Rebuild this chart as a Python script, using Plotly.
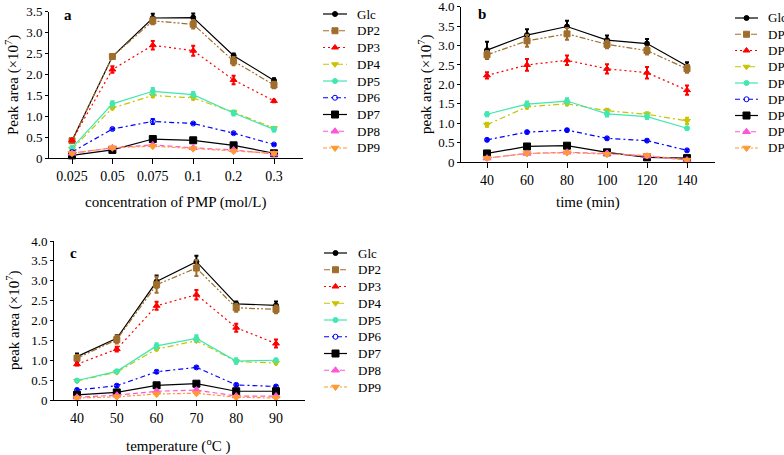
import plotly.graph_objects as go

W, H = 784, 455
SERIES = ["Glc", "DP2", "DP3", "DP4", "DP5", "DP6", "DP7", "DP8", "DP9"]

# Panel a: concentration of PMP
A_CATS = ["0.025", "0.05", "0.075", "0.1", "0.2", "0.3"]
A_GLC = [0.42, 2.43, 3.35, 3.36, 2.45, 1.86]
A_DP2 = [0.42, 2.43, 3.28, 3.20, 2.32, 1.75]
A_DP3 = [0.43, 2.12, 2.70, 2.57, 1.87, 1.37]
A_DP4 = [0.22, 1.20, 1.50, 1.44, 1.10, 0.72]
A_DP5 = [0.25, 1.30, 1.60, 1.52, 1.08, 0.69]
A_DP6 = [0.15, 0.70, 0.88, 0.83, 0.60, 0.33]
A_DP7 = [0.07, 0.20, 0.46, 0.43, 0.31, 0.12]
A_DP8 = [0.12, 0.25, 0.32, 0.25, 0.20, 0.10]
A_DP9 = [0.12, 0.25, 0.29, 0.23, 0.17, 0.12]
A_ERR = [
    [0.03, 0.05, 0.10, 0.10, 0.05, 0.05],
    [0.03, 0.05, 0.08, 0.10, 0.10, 0.08],
    [0.03, 0.08, 0.10, 0.12, 0.10, 0.03],
    [0.03, 0.03, 0.04, 0.04, 0.03, 0.03],
    [0.03, 0.06, 0.08, 0.06, 0.06, 0.05],
    [0.02, 0.02, 0.06, 0.02, 0.02, 0.02],
    [0.02, 0.02, 0.02, 0.02, 0.02, 0.02],
    [0.02, 0.02, 0.02, 0.02, 0.02, 0.02],
    [0.03, 0.03, 0.03, 0.03, 0.03, 0.03],
]

# Panel b: time
B_CATS = ["40", "60", "80", "100", "120", "140"]
B_GLC = [2.88, 3.27, 3.49, 3.14, 3.05, 2.47]
B_DP2 = [2.76, 3.12, 3.30, 3.03, 2.87, 2.40]
B_DP3 = [2.23, 2.50, 2.62, 2.40, 2.30, 1.85]
B_DP4 = [0.96, 1.42, 1.50, 1.32, 1.23, 1.06]
B_DP5 = [1.23, 1.49, 1.57, 1.24, 1.17, 0.87]
B_DP6 = [0.57, 0.77, 0.82, 0.61, 0.55, 0.30]
B_DP7 = [0.22, 0.40, 0.42, 0.25, 0.12, 0.10]
B_DP8 = [0.10, 0.22, 0.25, 0.22, 0.15, 0.05]
B_DP9 = [0.10, 0.22, 0.24, 0.20, 0.17, 0.05]
B_ERR = [
    [0.22, 0.15, 0.15, 0.12, 0.12, 0.10],
    [0.10, 0.15, 0.15, 0.10, 0.10, 0.10],
    [0.08, 0.15, 0.12, 0.12, 0.15, 0.12],
    [0.05, 0.04, 0.04, 0.05, 0.05, 0.08],
    [0.05, 0.07, 0.07, 0.07, 0.06, 0.03],
    [0.03, 0.03, 0.03, 0.03, 0.03, 0.03],
    [0.03, 0.03, 0.03, 0.03, 0.03, 0.03],
    [0.03, 0.03, 0.03, 0.03, 0.03, 0.03],
    [0.03, 0.03, 0.03, 0.03, 0.03, 0.03],
]

# Panel c: temperature
C_CATS = ["40", "50", "60", "70", "80", "90"]
C_GLC = [1.09, 1.55, 2.98, 3.48, 2.42, 2.38]
C_DP2 = [1.05, 1.52, 2.90, 3.32, 2.32, 2.28]
C_DP3 = [0.90, 1.28, 2.37, 2.65, 1.82, 1.42]
C_DP4 = [0.48, 0.70, 1.28, 1.49, 0.97, 0.93]
C_DP5 = [0.49, 0.72, 1.36, 1.55, 0.98, 1.00]
C_DP6 = [0.25, 0.36, 0.71, 0.82, 0.38, 0.34]
C_DP7 = [0.13, 0.19, 0.37, 0.41, 0.22, 0.22]
C_DP8 = [0.07, 0.12, 0.22, 0.25, 0.10, 0.10]
C_DP9 = [0.05, 0.08, 0.15, 0.17, 0.07, 0.05]
C_ERR = [
    [0.08, 0.08, 0.15, 0.15, 0.06, 0.10],
    [0.08, 0.10, 0.20, 0.20, 0.10, 0.10],
    [0.03, 0.06, 0.10, 0.12, 0.10, 0.10],
    [0.03, 0.03, 0.03, 0.03, 0.03, 0.03],
    [0.02, 0.04, 0.07, 0.08, 0.07, 0.04],
    [0.03, 0.03, 0.03, 0.03, 0.03, 0.03],
    [0.03, 0.03, 0.03, 0.03, 0.03, 0.03],
    [0.02, 0.02, 0.02, 0.02, 0.02, 0.02],
    [0.03, 0.03, 0.03, 0.03, 0.03, 0.03],
]

STYLE = {
    "Glc": dict(color="#000000", dash="solid", symbol="circle", size=5),
    "DP2": dict(color="#A06E2C", dash="6px,2px,2px,2px,2px,2px", symbol="square", size=6),
    "DP3": dict(color="#FF0000", dash="2px,3px", symbol="triangle-up", size=6),
    "DP4": dict(color="#C8C400", dash="6px,3px,2px,3px", symbol="triangle-down", size=6),
    "DP5": dict(color="#3FE8B0", dash="solid", symbol="circle", size=5),
    "DP6": dict(color="#0000FF", dash="5px,3px,2px,3px", symbol="circle-open", size=5),
    "DP7": dict(color="#000000", dash="solid", symbol="square", size=7),
    "DP8": dict(color="#FF55DD", dash="5px,3px", symbol="triangle-up", size=7),
    "DP9": dict(color="#FF9933", dash="4px,2px,2px,2px", symbol="triangle-down", size=7),
}

FONT = "Liberation Serif"


def px2x(p):
    return p / W


def px2y(p):
    return 1 - p / H


panels = [
    dict(cats=A_CATS, vals=[A_GLC, A_DP2, A_DP3, A_DP4, A_DP5, A_DP6, A_DP7, A_DP8, A_DP9], err=A_ERR,
         xa="x", ya="y", ax=49, axr=303, t0=72, dt=40.4, y0=158.3, ytop=11.7, ymax=3.5,
         yt=[0, 0.5, 1.0, 1.5, 2.0, 2.5, 3.0, 3.5],
         leg=dict(x0=323, x1=347, tx=355, y0=14, dy=16.75)),
    dict(cats=B_CATS, vals=[B_GLC, B_DP2, B_DP3, B_DP4, B_DP5, B_DP6, B_DP7, B_DP8, B_DP9], err=B_ERR,
         xa="x2", ya="y2", ax=461, axr=715, t0=487, dt=40.0, y0=162, ytop=6.7, ymax=4.0,
         yt=[0, 0.5, 1.0, 1.5, 2.0, 2.5, 3.0, 3.5, 4.0],
         leg=dict(x0=735, x1=758, tx=766, y0=18, dy=16.25)),
    dict(cats=C_CATS, vals=[C_GLC, C_DP2, C_DP3, C_DP4, C_DP5, C_DP6, C_DP7, C_DP8, C_DP9], err=C_ERR,
         xa="x3", ya="y3", ax=54, axr=305, t0=77, dt=39.8, y0=400, ytop=241, ymax=4.0,
         yt=[0, 0.5, 1.0, 1.5, 2.0, 2.5, 3.0, 3.5, 4.0],
         leg=dict(x0=324, x1=347, tx=356, y0=253, dy=16.75)),
]

fig = go.Figure()
layout = dict(width=W, height=H, margin=dict(l=0, r=0, t=0, b=0, autoexpand=False),
              paper_bgcolor="white", plot_bgcolor="rgba(0,0,0,0)", showlegend=False,
              font=dict(family=FONT, size=13, color="black"))

ann = []
for i, p in enumerate(panels):
    idx = list(range(len(p["cats"])))
    for s, name in enumerate(SERIES):
        st = STYLE[name]
        fig.add_trace(go.Scatter(
            x=idx, y=p["vals"][s], name=name, mode="lines+markers",
            xaxis=p["xa"], yaxis=p["ya"],
            line=dict(color=st["color"], dash=st["dash"], width=1.2),
            marker=dict(symbol=st["symbol"], size=st["size"], color=st["color"],
                        line=dict(color=st["color"], width=1)),
            error_y=dict(type="data", array=p["err"][s], color=st["color"], thickness=2, width=2),
            cliponaxis=False,
        ))
        # legend sample (drawn on a pixel-space overlay axis)
        lg = p["leg"]
        ly = lg["y0"] + s * lg["dy"]
        fig.add_trace(go.Scatter(
            x=[lg["x0"], lg["x1"]], y=[ly, ly],
            xaxis="x4", yaxis="y4", mode="lines", hoverinfo="skip",
            line=dict(color=st["color"], dash=st["dash"], width=1.2),
            cliponaxis=False,
        ))
        fig.add_trace(go.Scatter(
            x=[(lg["x0"] + lg["x1"]) / 2], y=[ly],
            xaxis="x4", yaxis="y4", mode="markers", hoverinfo="skip",
            marker=dict(symbol=st["symbol"], size=st["size"], color=st["color"],
                        line=dict(color=st["color"], width=1)),
            cliponaxis=False,
        ))
        ann.append(dict(x=px2x(lg["tx"]), y=px2y(ly), text=name, xanchor="left",
                        font=dict(size=13)))
    suffix = "" if i == 0 else str(i + 1)
    xmin = (p["ax"] - p["t0"]) / p["dt"]
    xmax = (p["axr"] - p["t0"]) / p["dt"]
    layout["xaxis" + suffix] = dict(
        domain=[px2x(p["ax"]), px2x(p["axr"])], range=[xmin, xmax], anchor=p["ya"],
        tickvals=idx, ticktext=p["cats"], showgrid=False, zeroline=False,
        showline=True, linecolor="black", linewidth=1, ticks="outside", ticklen=5,
        tickcolor="black", tickfont=dict(family=FONT, size=14),
        fixedrange=True, automargin=False, ticklabeloverflow="allow")
    layout["yaxis" + suffix] = dict(
        domain=[px2y(p["y0"]), px2y(p["ytop"])], range=[0, p["ymax"]], anchor=p["xa"],
        tickvals=p["yt"], ticktext=[("0" if v == 0 else f"{v:.1f}") for v in p["yt"]],
        showgrid=False, zeroline=False, showline=True, linecolor="black", linewidth=1,
        ticks="outside", ticklen=3, tickcolor="black", tickfont=dict(family=FONT, size=13),
        fixedrange=True, automargin=False, ticklabeloverflow="allow")

layout["xaxis4"] = dict(domain=[0, 1], range=[0, W], visible=False, anchor="y4",
                        fixedrange=True, automargin=False)
layout["yaxis4"] = dict(domain=[0, 1], range=[H, 0], visible=False, anchor="x4",
                        fixedrange=True, automargin=False)

fig.update_layout(**layout)

ann += [
    dict(x=px2x(68), y=px2y(15), text="<b>a</b>", font=dict(size=15)),
    dict(x=px2x(482), y=px2y(14), text="<b>b</b>", font=dict(size=15)),
    dict(x=px2x(73), y=px2y(253), text="<b>c</b>", font=dict(size=15)),
    dict(x=px2x(176), y=px2y(202), text="concentration of PMP (mol/L)", font=dict(size=15)),
    dict(x=px2x(588), y=px2y(202), text="time (min)", font=dict(size=15)),
    dict(x=px2x(178), y=px2y(445), text="temperature (<sup>o</sup>C )", font=dict(size=15)),
    dict(x=px2x(12), y=px2y(85), text="Peak area (×10<sup>7</sup>)", textangle=-90, font=dict(size=15)),
    dict(x=px2x(425), y=px2y(84), text="peak area (×10<sup>7</sup>)", textangle=-90, font=dict(size=15)),
    dict(x=px2x(13), y=px2y(320), text="peak area (×10<sup>7</sup>)", textangle=-90, font=dict(size=15)),
]
for a in ann:
    a.setdefault("xanchor", "center")
    a.update(xref="paper", yref="paper", showarrow=False, yanchor="middle")
    a["font"]["family"] = FONT
    a["font"]["color"] = "black"
fig.update_layout(annotations=ann)

fig.write_html("out.html", config={"displayModeBar": False},
               post_script="document.body.style.margin='0';document.body.style.overflow='hidden';")
